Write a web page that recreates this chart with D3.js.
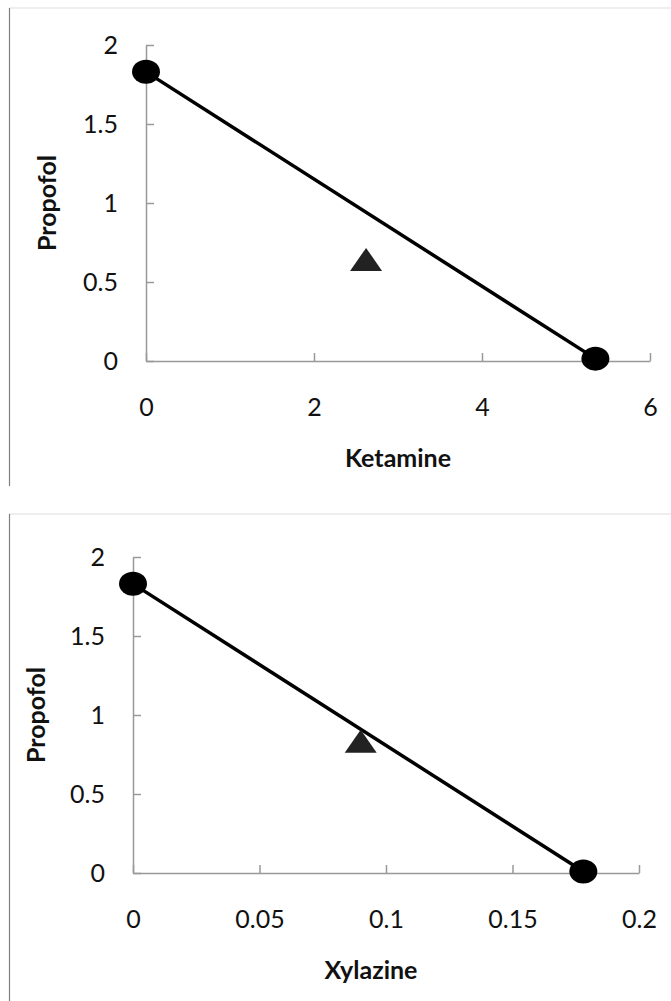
<!DOCTYPE html>
<html>
<head>
<meta charset="utf-8">
<script src="https://cdn.jsdelivr.net/npm/d3@7"></script>
<style>
  body { margin: 0; background: #fff; }
  svg text { font-family: Lato, "Open Sans", sans-serif; fill: #111; }
</style>
</head>
<body>
<svg id="chart" width="671" height="1001"></svg>
<script>
// isobologram data
const yTicks = [0, 0.5, 1, 1.5, 2];

const ketTicks = [0, 2, 4, 6];
const ketLine = [[0, 1.83], [5.35, 0.015]];
const ketMix = [[2.62, 0.64]];

const xylTicks = [0, 0.05, 0.1, 0.15, 0.2];
const xylLine = [[0, 1.83], [0.178, 0.01]];
const xylMix = [[0.09, 0.83]];

const svg = d3.select('#chart');

function drawPanel(p) {
    const g = svg.append('g');

    // frame like the cropped figure
    g.append('line').attr('x1', 9).attr('x2', 671).attr('y1', p.top).attr('y2', p.top)
        .attr('stroke', '#e8e8e8').attr('stroke-width', 1.5);
    g.append('line').attr('x1', 9.5).attr('x2', 9.5).attr('y1', p.top).attr('y2', p.bottom)
        .attr('stroke', '#808080').attr('stroke-width', 1.2);

    const x = d3.scaleLinear().domain(d3.extent(p.xTicks)).range([p.x0, p.x1]);
    const y = d3.scaleLinear().domain(d3.extent(yTicks)).range([p.y0, p.y1]);

    const xAxis = g.append('g').attr('transform', `translate(0,${p.y0})`)
        .call(d3.axisBottom(x).tickValues(p.xTicks).tickSizeInner(-8).tickSizeOuter(0).tickPadding(37)
            .tickFormat(d => String(d)));
    const yAxis = g.append('g').attr('transform', `translate(${p.x0},0)`)
        .call(d3.axisLeft(y).tickValues(yTicks).tickSizeInner(-8).tickSizeOuter(0).tickPadding(28)
            .tickFormat(d => String(d)));

    [xAxis, yAxis].forEach(a => {
        a.select('.domain').attr('stroke', '#999').attr('stroke-width', 1.5);
        a.selectAll('.tick line').attr('stroke', '#999').attr('stroke-width', 1.5);
        a.selectAll('.tick text').attr('font-size', 25).attr('fill', '#111')
            .style('font-family', 'Lato, "Open Sans", sans-serif');
    });
    xAxis.selectAll('.tick text').attr('dy', '0.71em');

    g.append('text').attr('x', p.xLabelX).attr('y', p.y0 + 97).attr('dy', '0.35em')
        .attr('text-anchor', 'middle').attr('font-size', 25).attr('font-weight', 'bold')
        .text(p.xLabel);
    g.append('text').attr('transform', `translate(${p.yLabelX},${p.yLabelY}) rotate(-90)`)
        .attr('dy', '0.35em')
        .attr('text-anchor', 'middle').attr('font-size', 25).attr('font-weight', 'bold')
        .text('Propofol');

    g.append('path').datum(p.line)
        .attr('d', d3.line().x(d => x(d[0])).y(d => y(d[1])))
        .attr('fill', 'none').attr('stroke', '#000').attr('stroke-width', 3.5);

    g.selectAll('ellipse.pt').data(p.line).enter().append('ellipse')
        .attr('class', 'pt')
        .attr('cx', d => x(d[0])).attr('cy', d => y(d[1]))
        .attr('rx', 14).attr('ry', 12).attr('fill', '#000');

    g.selectAll('path.mix').data(p.mix).enter().append('path')
        .attr('class', 'mix')
        .attr('d', d => {
            const cx = x(d[0]), cy = y(d[1]);
            return `M${cx},${cy - 12}L${cx + 16},${cy + 11}L${cx - 16},${cy + 11}Z`;
        })
        .attr('fill', '#222');
}

drawPanel({
    top: 8, bottom: 486,
    x0: 146, x1: 650, y0: 361, y1: 45,
    xTicks: ketTicks, line: ketLine, mix: ketMix,
    xLabel: 'Ketamine', xLabelX: 398, yLabelX: 47, yLabelY: 203
});

drawPanel({
    top: 514, bottom: 1001,
    x0: 133, x1: 639, y0: 873, y1: 557,
    xTicks: xylTicks, line: xylLine, mix: xylMix,
    xLabel: 'Xylazine', xLabelX: 371, yLabelX: 36, yLabelY: 715
});
</script>
</body>
</html>
